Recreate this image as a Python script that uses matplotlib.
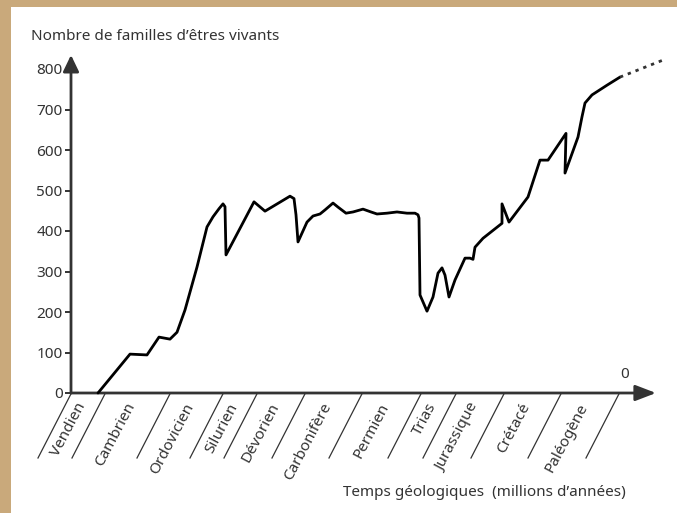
import numpy as np
import matplotlib
matplotlib.use('Agg')
import matplotlib.pyplot as plt
from matplotlib.patches import Rectangle

plt.rcParams['font.family'] = ['Noto Sans', 'DejaVu Sans']

# Periodes geologiques et limites (position le long de l'axe du temps, en px depuis l'origine du dessin)
periods = ['Vendien', 'Cambrien', 'Ordovicien', 'Silurien', 'Dévorien', 'Carbonifère',
           'Permien', 'Trias', 'Jurassique', 'Crétacé', 'Paléogène']
boundaries = [71, 105, 170, 223, 257, 305, 362, 421, 456, 504, 561, 619]

# Courbe du nombre de familles
time_pos = [98, 130, 147, 159, 170, 177, 185, 197, 207, 213, 219, 223, 225, 226,
            254, 265, 290, 294, 296, 298, 307, 313, 320, 325, 333, 338, 346, 353,
            363, 371, 377, 387, 397, 407, 415, 418, 419, 420, 427, 433, 438, 442,
            445, 449, 455, 465, 470, 473, 475, 483, 502, 502, 509, 528, 540, 548,
            566, 565, 578, 582, 585, 592, 607, 620]
families = [0, 96, 94, 138, 133, 150, 205, 311, 410, 435, 455, 467, 460, 341,
            472, 449, 486, 480, 440, 373, 422, 437, 442, 452, 469, 459, 444, 447,
            454, 447, 442, 444, 447, 444, 444, 440, 432, 242, 202, 237, 296, 309,
            291, 237, 279, 333, 333, 330, 360, 382, 419, 467, 422, 484, 575, 575,
            641, 543, 632, 682, 716, 736, 760, 780]
# extrapolation en pointilles
future_pos = [620, 663]
future_val = [780, 822]

y_ticks = [0, 100, 200, 300, 400, 500, 600, 700, 800]

W, H = 677, 513
px_per_unit = 0.405
ymax = (393 - 55) / px_per_unit

fig = plt.figure(figsize=(W / 100, H / 100), dpi=100)
fig.patch.set_facecolor('#c9a97b')
fig.patches.append(Rectangle((11 / W, 0), 1, (H - 7) / H, transform=fig.transFigure,
                             facecolor='white', edgecolor='none', zorder=-10))

ax = fig.add_axes([71 / W, 120 / H, (665 - 71) / W, (393 - 55) / H])
ax.set_zorder(5)
ax.set_facecolor('none')
ax.set_xlim(71, 665)
ax.set_ylim(0, ymax)

for s in ax.spines.values():
    s.set_visible(False)

axis_col = '#333333'
fs = 11
# axes avec fleches
ax.annotate('', xy=(71, ymax), xytext=(71, 0),
            arrowprops=dict(arrowstyle='-|>,head_length=1.0,head_width=0.48', mutation_scale=10,
                            lw=2, color=axis_col, shrinkA=0, shrinkB=0), annotation_clip=False)
ax.annotate('', xy=(656, 0), xytext=(71, 0),
            arrowprops=dict(arrowstyle='-|>,head_length=1.25,head_width=0.48', mutation_scale=10,
                            lw=2, color=axis_col, shrinkA=0, shrinkB=0), annotation_clip=False)

ax.set_yticks(y_ticks)
ax.tick_params(axis='y', direction='out', length=4, width=1.4, color=axis_col,
               labelsize=fs, labelcolor='#333333', pad=2)
ax.set_xticks([])

# courbe
ax.plot(time_pos, families, color='black', lw=2, solid_joinstyle='round',
        solid_capstyle='round', clip_on=False, zorder=3)
ax.plot(future_pos, future_val, color='#333333', lw=2, linestyle=(0, (1.2, 1.8)),
        clip_on=False, zorder=3)

# traits obliques des limites de periodes
slant_dx = -33
slant_dy = -65 / px_per_unit
for b in boundaries:
    ax.plot([b, b + slant_dx], [-2, slant_dy], color='#333333', lw=0.9, clip_on=False)

angle = np.degrees(np.arctan2(65, 33)) - 1
off = 11 / 65
for i, name in enumerate(periods):
    xm = (boundaries[i] + boundaries[i + 1]) / 2 + slant_dx * off
    ax.text(xm, slant_dy * off, name, rotation=angle, rotation_mode='anchor',
            ha='right', va='center', fontsize=fs, color='#333333', clip_on=False)

ax.text(625, (393 - 374) / px_per_unit, '0', ha='center', va='center',
        fontsize=fs, color='#333333')

fig.text(31 / W, 1 - 36 / H, 'Nombre de familles d’êtres vivants', ha='left', va='center',
         fontsize=fs, color='#333333')
fig.text(484 / W, 1 - 493 / H, 'Temps géologiques  (millions d’années)', ha='center',
         va='center', fontsize=fs, color='#333333')

fig.savefig('out.png', dpi=100)
